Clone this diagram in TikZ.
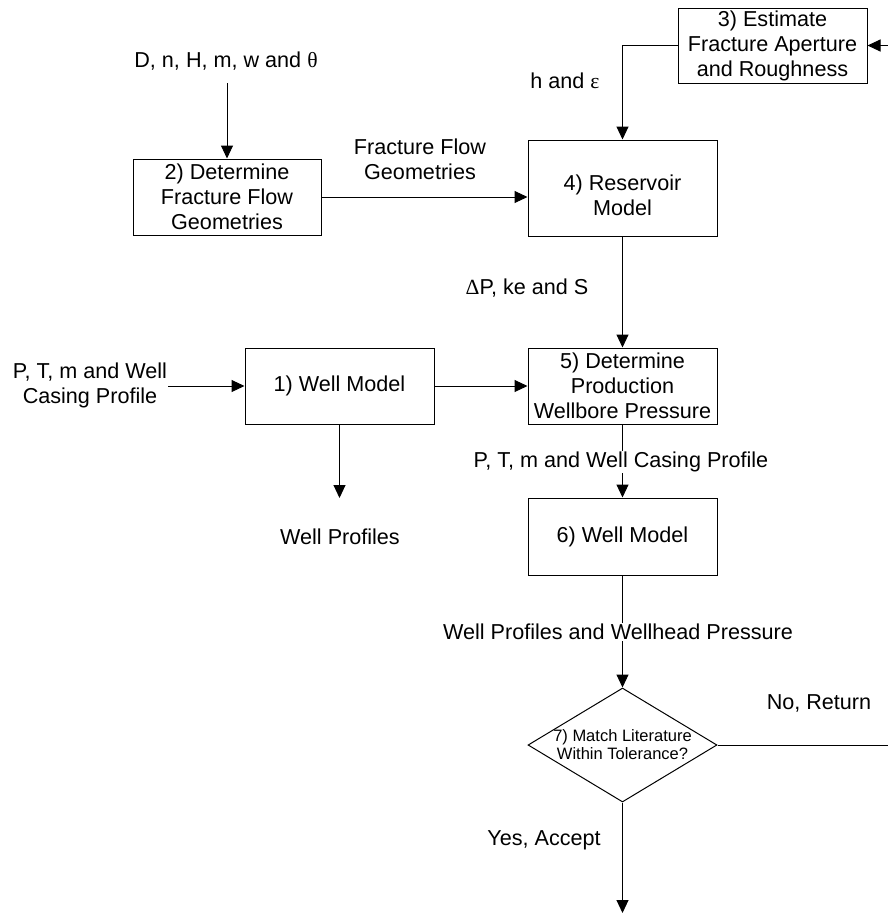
\documentclass[tikz,border=0pt]{standalone}
\usepackage{fontspec}
\setmainfont{Liberation Sans}
\newfontfamily\grk{Liberation Serif}
\usetikzlibrary{arrows.meta,shapes.geometric}
\begin{document}
\begin{tikzpicture}[x=1pt,y=-1pt,
  font=\fontsize{21.6}{25}\selectfont,
  proc/.style={draw, rectangle, line width=1pt, inner sep=0pt, align=center, minimum width=189pt},
  lbl/.style={inner sep=0pt, align=center},
  wlbl/.style={inner sep=1pt, align=center, fill=white},
  arr/.style={line width=1pt, -{Triangle[length=13pt,width=12pt]}},
  ln/.style={line width=1pt}]
\useasboundingbox (0,0) rectangle (888,914);

% boxes
\node[proc, minimum height=75pt] (b3) at (772.5,45.5) {3) Estimate\\Fracture Aperture\\and Roughness};
\node[proc, minimum width=188pt, minimum height=76pt] (b2) at (227,197) {2) Determine\\Fracture Flow\\Geometries};
\node[proc, minimum height=96pt, label={[lbl, yshift=-7pt]center:{4) Reservoir\\Model}}] (b4) at (622.5,188) {};
\node[proc, minimum height=76pt] (b1) at (339.5,386) {1) Well Model};
\node[proc, minimum height=76pt] (b5) at (622.5,386) {5) Determine\\Production\\Wellbore Pressure};
\node[proc, minimum height=77pt] (b6) at (622.5,536.5) {6) Well Model};
\node[draw, diamond, line width=1pt, inner sep=0pt, minimum width=189pt, minimum height=114pt] (d7) at (622.5,745) {};
\node[lbl, font=\fontsize{16.5}{18}\selectfont] (d7t) at (622.5,745) {7) Match Literature\\Within Tolerance?};

% free labels
\node[lbl] (tin2) at (226,61) {D, n, H, m, w and {\grk θ}};
\node[lbl] (th) at (565,81) {h and {\grk ε}};
\node[lbl] (tffg) at (420,159.5) {Fracture Flow\\Geometries};
\node[lbl] (tdp) at (527,288) {{\grk Δ}P, ke and S};
\node[lbl] (tin1) at (90,385) {P, T, m and Well\\Casing Profile};
\node[lbl] (twp) at (340,537) {Well Profiles};
\node[lbl] (tno) at (819,703) {No, Return};
\node[lbl] (tyes) at (544,840) {Yes, Accept};

% coordinates for free ends
\coordinate (in3) at (888,45.5);
\coordinate (in2) at (227,83);
\coordinate (in1) at (168,386);
\coordinate (out1) at (339.5,498);
\coordinate (outno) at (888,745);
\coordinate (outyes) at (622.5,913);

% connectors
\draw[arr] (in3) -- (b3.east);
\draw[arr] (b3.west) -| (b4.north);
\draw[arr] (in2) -- (b2.north);
\draw[arr] (b2.east) -- (b2.east -| b4.west);
\draw[arr] (b4.south) -- (b5.north);
\draw[arr] (in1) -- (b1.west);
\draw[arr] (b1.east) -- (b5.west);
\draw[arr] (b1.south) -- (out1);
\draw[arr] (b5.south) -- (b6.north);
\node[wlbl] (tptm) at (621,462) {P, T, m and Well Casing Profile};
\draw[arr] (b6.south) -- (d7.north);
\node[wlbl] (twpw) at (618,632) {Well Profiles and Wellhead Pressure};
\draw[ln] (d7.east) -- (outno);
\draw[arr] (d7.south) -- (outyes);
\end{tikzpicture}
\end{document}
